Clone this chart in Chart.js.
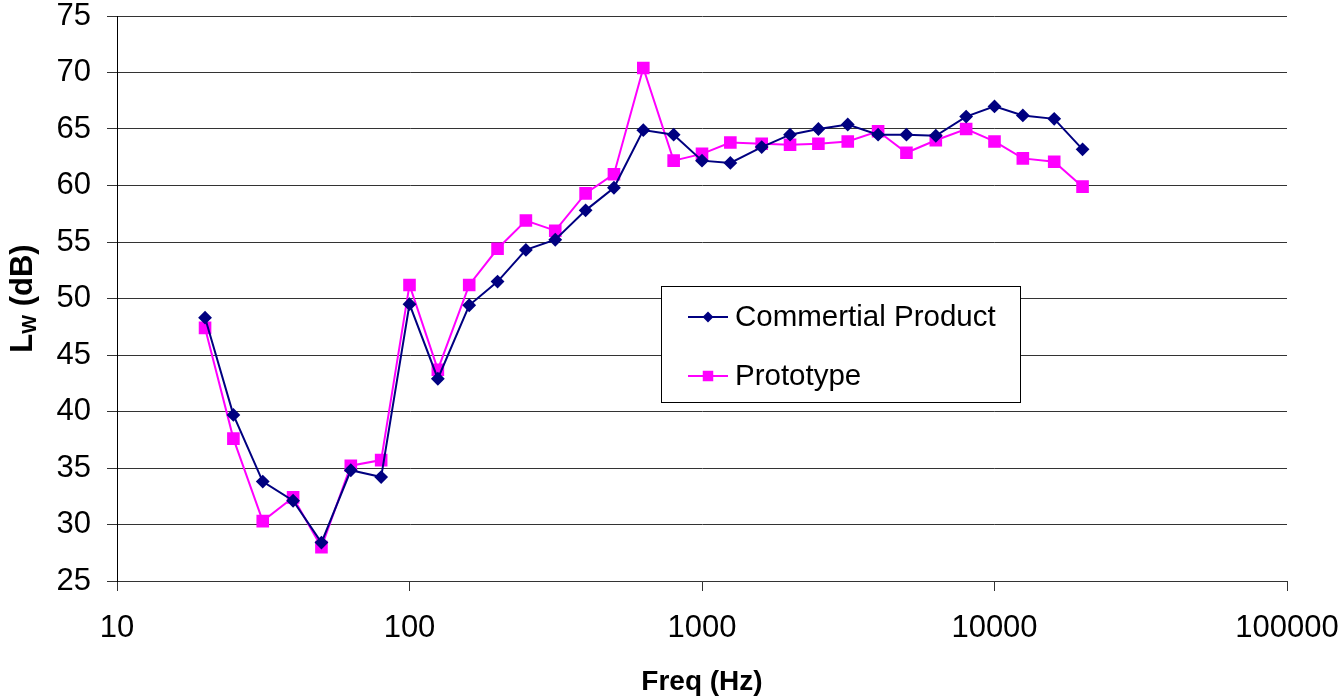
<!DOCTYPE html>
<html>
<head>
<meta charset="utf-8">
<script src="https://cdn.jsdelivr.net/npm/chart.js@4.4.1/dist/chart.umd.min.js"></script>
<style>
  html, body { margin: 0; padding: 0; background: #fff; }
  #wrap { width: 1344px; height: 699px; position: relative; }
</style>
</head>
<body>
<div id="wrap"><canvas id="lw-chart"></canvas></div>
<script>
// 1/3 octave band sound power levels
const freqs = [20, 25, 31.5, 40, 50, 63, 80, 100, 125, 160, 200, 250, 315, 400, 500, 630,
  800, 1000, 1250, 1600, 2000, 2500, 3150, 4000, 5000, 6300, 8000, 10000, 12500, 16000, 20000];
const commercialLw = [48.3, 39.7, 33.8, 32.1, 28.4, 34.8, 34.2, 49.5, 42.9, 49.4, 51.5, 54.3, 55.2, 57.8, 59.8, 64.9,
  64.5, 62.2, 62.0, 63.4, 64.5, 65.0, 65.4, 64.5, 64.5, 64.4, 66.1, 67.0, 66.2, 65.9, 63.2];
const prototypeLw = [47.4, 37.6, 30.3, 32.4, 28.0, 35.2, 35.7, 51.2, 43.7, 51.2, 54.4, 56.9, 56.0, 59.3, 61.0, 70.4,
  62.2, 62.8, 63.8, 63.7, 63.6, 63.7, 63.9, 64.8, 62.9, 64.0, 65.0, 63.9, 62.4, 62.1, 59.9];
const seriesLabels = ['Commertial Product', 'Prototype'];
const xTickValues = [10, 100, 1000, 10000, 100000];
const yTickValues = [25, 30, 35, 40, 45, 50, 55, 60, 65, 70, 75];

const FONT = 'Arial, "Liberation Sans", sans-serif';
const gridColor = '#333';

function toPoints(ys) {
  return freqs.map((f, i) => ({ x: f, y: ys[i] }));
}

// y title has a subscript, so it is drawn by hand
const yTitlePlugin = {
  id: 'yTitle',
  afterDraw(chart) {
    const ctx = chart.ctx;
    const area = chart.chartArea;
    const big = 'bold 31px ' + FONT;
    const small = 'bold 20px ' + FONT;
    ctx.save();
    ctx.fillStyle = '#000';
    ctx.textBaseline = 'alphabetic';
    ctx.font = big;
    const wL = ctx.measureText('L').width;
    const wRest = ctx.measureText(' (dB)').width;
    ctx.font = small;
    const wW = ctx.measureText('W').width;
    const total = wL + wW + wRest;
    ctx.translate(32, (area.top + area.bottom) / 2);
    ctx.rotate(-Math.PI / 2);
    let x = -total / 2;
    ctx.font = big;
    ctx.fillText('L', x, 0);
    x += wL;
    ctx.font = small;
    ctx.fillText('W', x, 4);
    x += wW;
    ctx.font = big;
    ctx.fillText(' (dB)', x, 0);
    ctx.restore();
  }
};

// legend box sits inside the plot area
const boxLegendPlugin = {
  id: 'boxLegend',
  afterDraw(chart) {
    const ctx = chart.ctx;
    const box = { x: 661.5, y: 286.5, w: 359, h: 116 };
    const rows = [317, 376];
    ctx.save();
    ctx.fillStyle = '#fff';
    ctx.fillRect(box.x, box.y, box.w, box.h);
    ctx.strokeStyle = '#000';
    ctx.lineWidth = 1;
    ctx.strokeRect(box.x, box.y, box.w, box.h);
    chart.data.datasets.forEach((ds, i) => {
      const y = rows[i];
      ctx.strokeStyle = ds.borderColor;
      ctx.lineWidth = 2;
      ctx.beginPath();
      ctx.moveTo(688, y);
      ctx.lineTo(728, y);
      ctx.stroke();
      ctx.fillStyle = ds.pointBackgroundColor;
      ctx.strokeStyle = ds.pointBorderColor;
      Chart.helpers.drawPoint(ctx, {
        pointStyle: ds.pointStyle,
        radius: ds.legendRadius,
        rotation: 0,
        borderWidth: 1
      }, 708, y);
      ctx.fillStyle = '#000';
      ctx.font = '29.5px ' + FONT;
      ctx.textBaseline = 'middle';
      ctx.textAlign = 'left';
      ctx.fillText(ds.label, 735, y + 1);
    });
    ctx.restore();
  }
};

const chartConfig = {
  type: 'line',
  data: {
    datasets: [
      {
        label: seriesLabels[0],
        data: toPoints(commercialLw),
        borderColor: '#000080',
        backgroundColor: '#000080',
        pointBackgroundColor: '#000080',
        pointBorderColor: '#000080',
        borderWidth: 2,
        pointStyle: 'rectRot',
        pointRadius: 5.5,
        pointHoverRadius: 5.5,
        legendRadius: 4,
        tension: 0
      },
      {
        label: seriesLabels[1],
        data: toPoints(prototypeLw),
        borderColor: '#ff00ff',
        backgroundColor: '#ff00ff',
        pointBackgroundColor: '#ff00ff',
        pointBorderColor: '#ff00ff',
        borderWidth: 2,
        pointStyle: 'rect',
        pointRadius: 7.5,
        pointHoverRadius: 7.5,
        legendRadius: 6,
        tension: 0
      }
    ]
  },
  options: {
    responsive: true,
    maintainAspectRatio: false,
    animation: false,
    events: [],
    layout: { padding: { left: 0, right: 57, top: 16, bottom: 0 } },
    plugins: {
      legend: { display: false },
      tooltip: { enabled: false }
    },
    scales: {
      x: {
        type: 'logarithmic',
        min: 10,
        max: 100000,
        afterBuildTicks(scale) {
          scale.ticks = xTickValues.map(v => ({ value: v }));
        },
        afterFit(scale) {
          scale.height = 118;
          scale.paddingLeft = 0;
          scale.paddingRight = 0;
        },
        grid: {
          drawOnChartArea: false,
          drawTicks: true,
          tickLength: 10,
          tickColor: gridColor
        },
        border: { display: true, color: gridColor, width: 1 },
        ticks: {
          autoSkip: false,
          maxRotation: 0,
          padding: 19,
          color: '#000',
          font: { family: FONT, size: 31, lineHeight: 1.2 },
          callback: v => String(v)
        },
        title: {
          display: true,
          text: 'Freq (Hz)',
          color: '#000',
          padding: 0,
          font: { family: FONT, size: 28, weight: 'bold', lineHeight: 1.2 }
        }
      },
      y: {
        min: 25,
        max: 75,
        afterBuildTicks(scale) {
          scale.ticks = yTickValues.map(v => ({ value: v }));
        },
        afterFit(scale) {
          scale.width = 117;
          scale.paddingTop = 0;
          scale.paddingBottom = 0;
        },
        grid: {
          color: gridColor,
          lineWidth: 1,
          drawTicks: true,
          tickLength: 10,
          tickColor: gridColor
        },
        border: { display: true, color: '#000', width: 1 },
        ticks: {
          padding: 16,
          color: '#000',
          font: { family: FONT, size: 31, lineHeight: 1 }
        }
      }
    }
  },
  plugins: [yTitlePlugin, boxLegendPlugin]
};

new Chart(document.getElementById('lw-chart'), chartConfig);
</script>
</body>
</html>
